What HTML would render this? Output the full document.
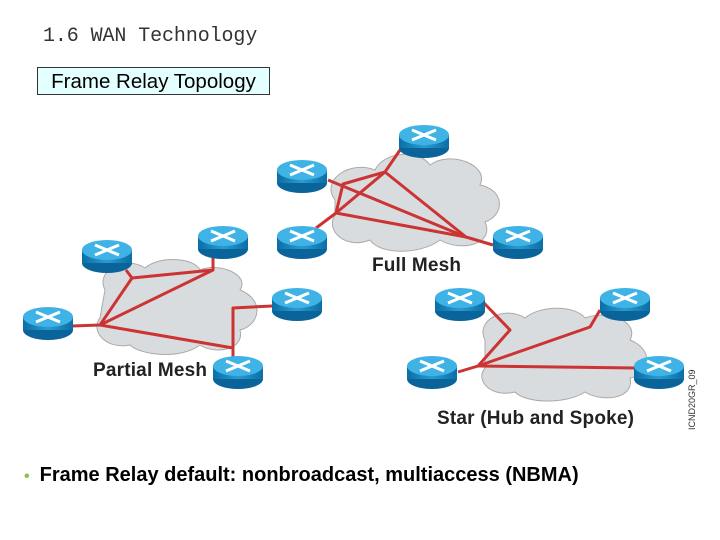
<!DOCTYPE html>
<html><head><style>
body{margin:0;width:720px;height:540px;background:#fff;overflow:hidden;position:relative;font-family:"Liberation Sans",sans-serif}
.t{position:absolute;left:43px;top:25px;font-family:"Liberation Mono",monospace;font-size:20px;color:#333;letter-spacing:-0.1px}
.box{position:absolute;left:37px;top:67px;width:231px;height:26px;border:1px solid #333;background:#e4ffff;font-size:20.5px;line-height:27px;text-align:center;color:#000}
.b{position:absolute;left:24px;top:464px;font-size:20px;font-weight:bold;color:#000}
.b span{color:#8bc34a;margin-right:10px;font-size:16px}
</style></head><body>
<div class="t">1.6 WAN Technology</div>
<div class="box">Frame Relay Topology</div>
<svg width="720" height="540" style="position:absolute;left:0;top:0">
<defs>
<linearGradient id="bd" x1="0" x2="1"><stop offset="0" stop-color="#0a6fa6"/><stop offset="0.5" stop-color="#2a9bd0"/><stop offset="1" stop-color="#0a6fa6"/></linearGradient>
<g id="r">
<ellipse cx="0" cy="13" rx="25" ry="10" fill="#0a6399"/>
<rect x="-25" y="0" width="50" height="13" fill="url(#bd)"/>
<ellipse cx="0" cy="0" rx="25" ry="10" fill="#3fb3e6"/>
<path d="M-12,-5 L12,5 M-12,5 L12,-5" stroke="#fff" stroke-width="3"/>
</g>
</defs>
<g fill="#d9dcde" stroke="#aaa" stroke-width="1">
<path d="M335,200 C320,180 350,160 375,170 C385,150 420,150 430,165 C450,150 490,165 480,185 C505,190 505,215 485,222 C495,245 460,252 440,240 C420,255 380,255 370,240 C345,250 325,230 335,215 Z"/>
<path d="M105,290 C95,270 125,255 145,268 C160,255 195,258 200,270 C220,262 250,275 240,290 C265,300 260,325 240,330 C245,350 215,355 200,345 C180,360 140,355 130,345 C105,350 90,330 100,318 Z"/>
<path d="M485,340 C475,320 505,305 525,318 C540,305 575,305 585,318 C605,310 640,320 630,340 C655,350 650,375 630,378 C635,400 600,402 585,392 C565,405 525,403 515,392 C490,398 475,380 485,368 Z"/>
</g>
<g fill="none" stroke="#cc3333" stroke-width="3" stroke-linejoin="round">
<polyline points="400,150 385,172 343,184 336,213"/>
<polyline points="385,172 466,237 493,245"/>
<polyline points="328,180 345,187 466,237"/>
<polyline points="316,228 336,213 466,237"/>
<line x1="336" y1="213" x2="385" y2="172"/>
<polyline points="126,270 132,278 213,270 213,258"/>
<polyline points="132,278 100,325 213,270"/>
<line x1="72" y1="326" x2="100" y2="325"/>
<polyline points="100,325 233,348 233,360"/>
<polyline points="233,348 233,308 272,306"/>
<polyline points="483,302 510,330 478,366 458,372"/>
<polyline points="478,366 590,327 600,310"/>
<line x1="478" y1="366" x2="636" y2="368"/>
</g>
<use href="#r" x="424" y="135"/>
<use href="#r" x="302" y="170"/>
<use href="#r" x="302" y="236"/>
<use href="#r" x="518" y="236"/>
<use href="#r" x="107" y="250"/>
<use href="#r" x="223" y="236"/>
<use href="#r" x="48" y="317"/>
<use href="#r" x="297" y="298"/>
<use href="#r" x="238" y="366"/>
<use href="#r" x="460" y="298"/>
<use href="#r" x="625" y="298"/>
<use href="#r" x="432" y="366"/>
<use href="#r" x="659" y="366"/>
<g font-family="Liberation Sans,sans-serif" font-weight="bold" font-size="19" fill="#222">
<text x="372" y="271" textLength="89">Full Mesh</text>
<text x="93" y="376" textLength="114">Partial Mesh</text>
<text x="437" y="424" textLength="197">Star (Hub and Spoke)</text>
</g>
<text x="0" y="0" font-family="Liberation Sans,sans-serif" font-size="9" fill="#333" transform="translate(695,430) rotate(-90)">ICND20GR_09</text>
</svg>
<div class="b"><span>•</span>Frame Relay default: nonbroadcast, multiaccess (NBMA)</div>
</body></html>
